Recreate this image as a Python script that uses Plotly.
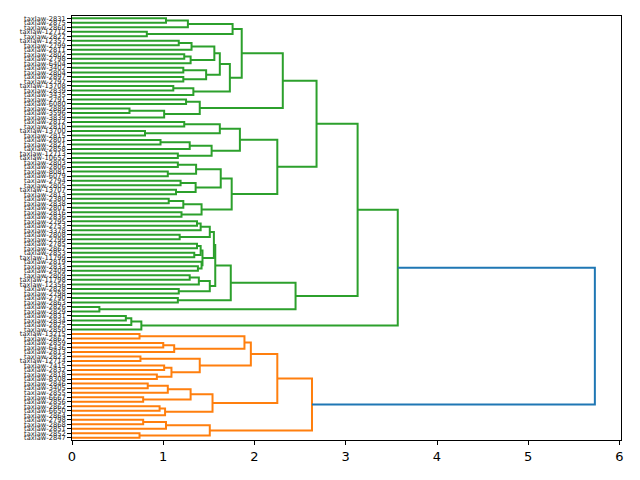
import plotly.graph_objects as go

# ---- leaf labels (top to bottom) ----
leaf_labels = [
    "taxlaw-2831", "taxlaw-2875", "taxlaw-2860", "taxlaw-12712", "taxlaw-2827",
    "taxlaw-12357", "taxlaw-2799", "taxlaw-2811", "taxlaw-2802", "taxlaw-2798",
    "taxlaw-6404", "taxlaw-3402", "taxlaw-2804", "taxlaw-2897", "taxlaw-2797",
    "taxlaw-13708", "taxlaw-2839", "taxlaw-3435", "taxlaw-2791", "taxlaw-6080",
    "taxlaw-2889", "taxlaw-3596", "taxlaw-3839", "taxlaw-2812", "taxlaw-2810",
    "taxlaw-13700", "taxlaw-2815", "taxlaw-2801", "taxlaw-2821", "taxlaw-2858",
    "taxlaw-12713", "taxlaw-10652", "taxlaw-2803", "taxlaw-2806", "taxlaw-8081",
    "taxlaw-6079", "taxlaw-2794", "taxlaw-2805", "taxlaw-13707", "taxlaw-2813",
    "taxlaw-2380", "taxlaw-2838", "taxlaw-2801", "taxlaw-2816", "taxlaw-2836",
    "taxlaw-2795", "taxlaw-2753", "taxlaw-3378", "taxlaw-2808", "taxlaw-2799",
    "taxlaw-2785", "taxlaw-2867", "taxlaw-2853", "taxlaw-11799", "taxlaw-2819",
    "taxlaw-2833", "taxlaw-2409", "taxlaw-2809", "taxlaw-11798", "taxlaw-12356",
    "taxlaw-2828", "taxlaw-2798", "taxlaw-2790", "taxlaw-2863", "taxlaw-2826",
    "taxlaw-2829", "taxlaw-2831", "taxlaw-2834", "taxlaw-2825", "taxlaw-2850",
    "taxlaw-13215", "taxlaw-2867", "taxlaw-2859", "taxlaw-6436", "taxlaw-2813",
    "taxlaw-2823", "taxlaw-12714", "taxlaw-7415", "taxlaw-2832", "taxlaw-2818",
    "taxlaw-8308", "taxlaw-2846", "taxlaw-3405", "taxlaw-2855", "taxlaw-6667",
    "taxlaw-2856", "taxlaw-2862", "taxlaw-6650", "taxlaw-2864", "taxlaw-2798",
    "taxlaw-2868", "taxlaw-2851", "taxlaw-2852", "taxlaw-2847",
]

# ---- merges: name, left child, right child, height (L<i> = leaf i) ----
merge_name = [
    "a01", "a012", "a34", "A", "b56", "b567", "b89", "b8910", "b5_10", "b1112",
    "b1314", "b11_14", "b5_14", "b1516", "b15_17", "B", "AB", "c1819", "c2021",
    "c20_22", "C", "ABC", "e2324", "e2526", "E", "d2728", "d27_29", "d3031", "D",
    "DE", "f3233", "f3435", "f32_35", "f3637", "f3839", "f36_39", "f32_39",
    "g4041", "g40_42", "g4344", "g40_44", "F", "DEF", "ABCDEF",
    "h4546", "h45_47", "h4849", "h45_49", "i5051", "i5253", "i50_53", "i5556",
    "i54_56", "I", "HI", "j5758", "j57_59", "j6061", "j57_61", "HIJ", "k6263",
    "K", "l6465", "KL", "Gall", "m6667", "m66_68", "M", "GREEN",
    "oa", "ob23", "ob", "oab", "oc56", "oc78", "oc910", "oc7_10", "oc", "oabc",
    "od1", "od12", "od2", "od", "oe1", "oe", "ode", "oabcde", "of1", "of", "og",
    "ofg", "ORANGE", "ROOT",
]
merge_left = [
    "L0", "a01", "L3", "a012", "L5", "b56", "L8", "b89", "b567", "L11",
    "L13", "b1112", "b5_10", "L15", "b1516", "b5_14", "A", "L18", "L20",
    "c2021", "c1819", "AB", "L23", "L25", "e2324", "L27", "d2728", "L30", "d27_29",
    "E", "L32", "L34", "f3233", "L36", "L38", "f3637", "f32_35",
    "L40", "g4041", "L43", "g40_42", "f32_39", "DE", "ABC",
    "L45", "h4546", "L48", "h45_47", "L50", "L52", "i5051", "L55",
    "L54", "i50_53", "h45_49", "L57", "j5758", "L60", "j57_59", "HI", "L62",
    "HIJ", "L64", "K", "ABCDEF", "L66", "m6667", "m66_68", "Gall",
    "L70", "L72", "ob23", "oa", "L75", "L77", "L79", "oc78", "oc56", "oab",
    "L81", "od1", "L84", "od12", "L86", "oe1", "od", "oabc", "L89", "of1", "L92",
    "of", "oabcde", "GREEN",
]
merge_right = [
    "L1", "L2", "L4", "a34", "L6", "L7", "L9", "L10", "b8910", "L12",
    "L14", "b1314", "b11_14", "L16", "L17", "b15_17", "B", "L19", "L21",
    "L22", "c20_22", "C", "L24", "L26", "e2526", "L28", "L29", "L31", "d3031",
    "D", "L33", "L35", "f3435", "L37", "L39", "f3839", "f36_39",
    "L41", "L42", "L44", "g4344", "g40_44", "F", "DEF",
    "L46", "L47", "L49", "h4849", "L51", "L53", "i5253", "L56",
    "i5556", "i54_56", "I", "L58", "L59", "L61", "j6061", "j57_61", "L63",
    "k6263", "L65", "l6465", "KL", "L67", "L68", "L69", "M",
    "L71", "L73", "L74", "ob", "L76", "L78", "L80", "oc910", "oc7_10", "oc",
    "L82", "L83", "L85", "od2", "L87", "L88", "oe", "ode", "L90", "L91", "L93",
    "og", "ofg", "ORANGE",
]
merge_height = [
    1.03, 1.27, 0.82, 1.76, 1.17, 1.31, 1.23, 1.30, 1.56, 1.22,
    1.22, 1.47, 1.62, 1.11, 1.33, 1.73, 1.86, 1.25, 0.63,
    1.01, 1.40, 2.31, 1.23, 0.80, 1.62, 0.97, 1.29, 1.16, 1.53,
    1.84, 1.16, 1.05, 1.36, 1.19, 1.14, 1.355, 1.63,
    1.06, 1.22, 1.20, 1.42, 1.75, 2.25, 2.68,
    1.37, 1.41, 1.18, 1.51, 1.37, 1.34, 1.41, 1.38,
    1.42, 1.43, 1.555, 1.29, 1.39, 1.17, 1.51, 1.57, 1.16,
    1.74, 0.30, 2.45, 3.13, 0.59, 0.65, 0.76, 3.57,
    0.74, 1.00, 1.12, 1.89, 0.75, 1.01, 0.93, 1.09, 1.40, 1.96,
    0.83, 1.05, 0.78, 1.30, 0.96, 1.02, 1.54, 2.25, 0.78, 1.03, 0.74,
    1.51, 2.63, 5.73,
]

cluster_roots = ["GREEN", "ORANGE"]
cluster_colors = ["#2ca02c", "#ff7f0e"]
above_color = "#1f77b4"

# ---- compute coordinates ----
n_leaves = len(leaf_labels)
pos = {}
hgt = {}
for i in range(n_leaves):
    pos["L%d" % i] = 5 + 10 * i
    hgt["L%d" % i] = 0.0
children = {}
for nm, l, r, h in zip(merge_name, merge_left, merge_right, merge_height):
    pos[nm] = (pos[l] + pos[r]) / 2.0
    hgt[nm] = h
    children[nm] = (l, r)

color_of = {}
def paint(node, col):
    if node in children:
        color_of[node] = col
        for c in children[node]:
            paint(c, col)
for root, col in zip(cluster_roots, cluster_colors):
    paint(root, col)

segs = {}
for nm, l, r, h in zip(merge_name, merge_left, merge_right, merge_height):
    col = color_of.get(nm, above_color)
    xs, ys = segs.setdefault(col, ([], []))
    xs += [hgt[l], h, h, hgt[r], None]
    ys += [pos[l], pos[l], pos[r], pos[r], None]

fig = go.Figure()
for col in cluster_colors + [above_color]:
    if col in segs:
        xs, ys = segs[col]
        fig.add_trace(go.Scatter(x=xs, y=ys, mode="lines",
                                 line=dict(color=col, width=2),
                                 hoverinfo="skip", showlegend=False))

fig.update_layout(
    width=640, height=480,
    margin=dict(l=72, r=19, t=16, b=40),
    paper_bgcolor="white", plot_bgcolor="white",
    font=dict(family="DejaVu Sans", color="black"),
)
fig.update_xaxes(range=[0, max(merge_height) * 1.05], tickvals=list(range(7)),
                 showgrid=False, zeroline=False, showline=True, mirror=True,
                 linecolor="black", linewidth=1, ticks="outside", ticklen=4,
                 tickcolor="black", tickfont=dict(size=13, color="black"))
fig.update_yaxes(range=[10 * n_leaves, 0],
                 tickvals=[5 + 10 * i for i in range(n_leaves)],
                 ticktext=leaf_labels,
                 showgrid=False, zeroline=False, showline=True, mirror=True,
                 linecolor="black", linewidth=1, ticks="outside", ticklen=4,
                 tickcolor="black", tickfont=dict(size=6.7, color="#222222"))

fig.write_html("out.html")
